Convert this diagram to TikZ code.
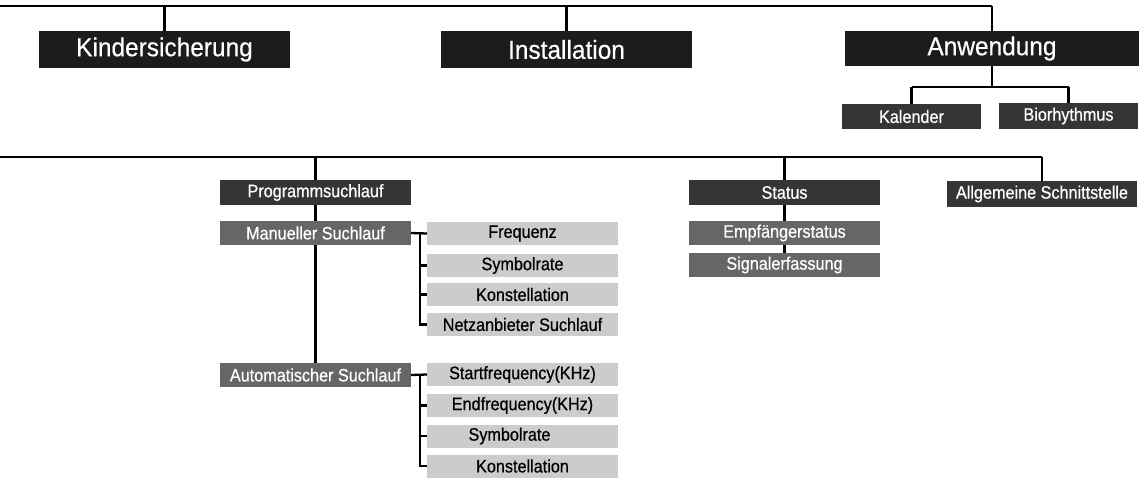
\documentclass[tikz,border=0pt]{standalone}
\usepackage{fontspec}
\setmainfont{Liberation Sans}
\newfontfamily\narrowfont[FakeStretch=0.9,FakeBold=0.6]{Liberation Sans}
\newfontfamily\topfont[FakeStretch=0.94,FakeBold=0.5]{Liberation Sans}
\definecolor{topc}{HTML}{1C1C1C}
\definecolor{midc}{HTML}{353535}
\definecolor{grayc}{HTML}{666666}
\definecolor{lightc}{HTML}{CCCCCC}
\begin{document}
\begin{tikzpicture}[x=1pt,y=-1pt,
  box/.style={inner sep=0pt,outer sep=0pt,anchor=center,font=\narrowfont\fontsize{18}{18}\selectfont},
  topbox/.style={box,fill=topc,text=white,minimum width=251pt,minimum height=37pt,font=\topfont\fontsize{26}{26}\selectfont},
  midbox/.style={box,fill=midc,text=white,minimum width=191pt,minimum height=25pt},
  graybox/.style={box,fill=grayc,text=white,minimum width=191pt,minimum height=24pt},
  lightbox/.style={box,fill=lightc,text=black,minimum width=191pt,minimum height=23pt},
  conn/.style={line width=2.3pt,black}]
\useasboundingbox (0,0) rectangle (1146,482);
% coordinates
\coordinate (t0) at (0,6);
\coordinate (t1) at (164.5,6);
\coordinate (t2) at (566.5,6);
\coordinate (t3) at (992,6);
\coordinate (a0) at (992,87);
\coordinate (a1) at (911.5,87);
\coordinate (a2) at (1068.5,87);
\coordinate (s0) at (0,157);
\coordinate (s1) at (315.5,157);
\coordinate (s2) at (784.5,157);
\coordinate (s3) at (1042,157);
\coordinate (b1) at (420,233.5);
\coordinate (b2) at (420,374.5);
% connectors (behind)
\draw[conn] (t0) -- (t3);
\draw[conn] (s0) -- (s3);
% nodes
\node[topbox] (kind) at (164.5,49.5) {Kindersicherung};
\node[topbox] (inst) at (566.5,49.5) {Installation};
\node[topbox,minimum width=294pt,minimum height=35pt] (anw) at (992,48.5) {Anwendung};
\node[midbox,minimum width=139pt] (kal) at (911.5,116.5) {Kalender};
\node[midbox,minimum width=139pt,minimum height=26pt] (bio) at (1068.5,116) {Biorhythmus};
\node[midbox] (prog) at (315.5,192.5) {Programmsuchlauf};
\node[graybox] (man) at (315.5,233) {Manueller Suchlauf};
\node[graybox] (auto) at (315.5,375) {Automatischer Suchlauf};
\node[lightbox] (freq) at (522.5,233.5) {Frequenz};
\node[lightbox] (sym1) at (522.5,265.5) {Symbolrate};
\node[lightbox] (kon1) at (522.5,294.5) {Konstellation};
\node[lightbox] (net) at (522.5,324.5) {Netzanbieter Suchlauf};
\node[lightbox] (start) at (522.5,374.5) {Startfrequency(KHz)};
\node[lightbox] (end) at (522.5,405.5) {Endfrequency(KHz)};
\node[lightbox] (sym2) at (522.5,436) {\hspace*{-26pt}Symbolrate};
\node[lightbox] (kon2) at (522.5,466) {Konstellation};
\node[midbox] (stat) at (784.5,192.5) {Status};
\node[graybox] (emp) at (784.5,233) {Empfängerstatus};
\node[graybox] (sig) at (784.5,265) {Signalerfassung};
\node[midbox,minimum width=190pt,minimum height=26pt] (allg) at (1042,194) {Allgemeine Schnittstelle};
% connectors
\draw[conn] (t1) -- (kind.north);
\draw[conn] (t2) -- (inst.north);
\draw[conn] (t3) -- (anw.north);
\draw[conn] (anw.south) -- (a0);
\draw[conn] (a1) -- (a2);
\draw[conn] (a1) -- (kal.north);
\draw[conn] (a2) -- (bio.north);
\draw[conn] (s1) -- (prog.north);
\draw[conn] (prog.south) -- (man.north);
\draw[conn] (man.south) -- (auto.north);
\draw[conn] (s2) -- (stat.north);
\draw[conn] (stat.south) -- (emp.north);
\draw[conn] (emp.south) -- (sig.north);
\draw[conn] (s3) -- (allg.north);
\draw[conn] (man.east) -- (freq.west);
\draw[conn] (b1) |- (sym1.west);
\draw[conn] (b1) |- (kon1.west);
\draw[conn] (b1) |- (net.west);
\draw[conn] (auto.east) -- (start.west);
\draw[conn] (b2) |- (end.west);
\draw[conn] (b2) |- (sym2.west);
\draw[conn] (b2) |- (kon2.west);
\end{tikzpicture}
\end{document}
